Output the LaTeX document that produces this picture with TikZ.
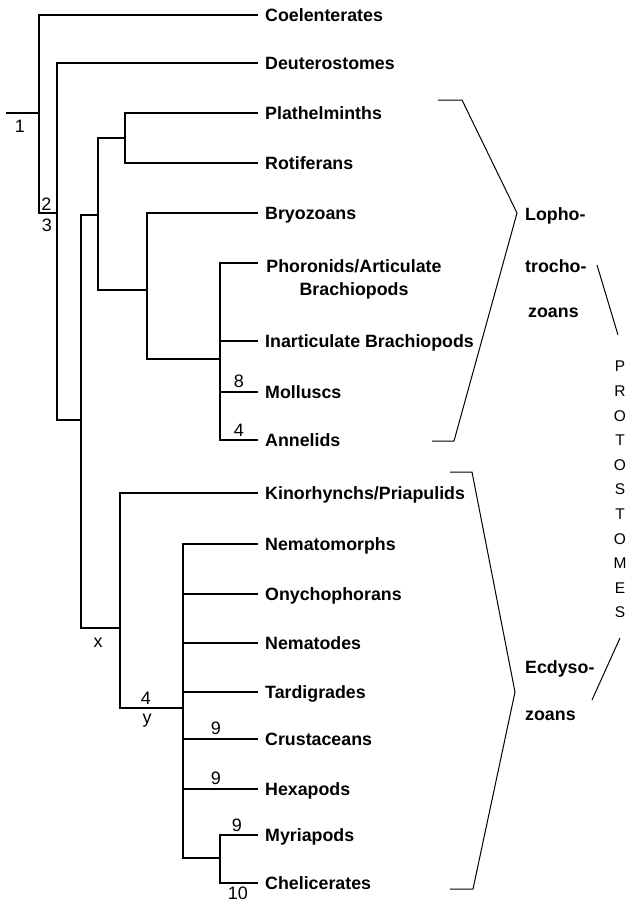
\documentclass[tikz,border=0pt]{standalone}
\usepackage{fontspec}
\setmainfont{Liberation Sans}
\begin{document}
\begin{tikzpicture}[x=1pt,y=-1pt,
  tree/.style={line width=1.2pt},
  brk/.style={line width=1pt, line join=miter},
  leaf/.style={anchor=base west, inner sep=0pt, font=\fontsize{17.8}{23}\selectfont\bfseries},
  num/.style={inner sep=0pt, font=\fontsize{18}{20}\selectfont},
  grp/.style={anchor=base west, inner sep=0pt, font=\fontsize{17.8}{23}\selectfont\bfseries}]
\useasboundingbox (0,0) rectangle (627,902);

% internal nodes of the tree
\coordinate (r) at (6,113);
\coordinate (n1) at (39,113);
\coordinate (n2) at (57,213);
\coordinate (n3) at (81,420);
\coordinate (n4) at (98,215);
\coordinate (n5) at (120,628);
\coordinate (n6) at (125,138);
\coordinate (n7) at (147,290);
\coordinate (n8) at (220,359);
\coordinate (n9) at (183,708);
\coordinate (n10) at (220,858);

% leaves
\foreach \n/\y/\t in {coel/15/Coelenterates, deut/63/Deuterostomes, plat/113/Plathelminths,
  rot/163/Rotiferans, bryo/213/Bryozoans, inart/341/Inarticulate Brachiopods,
  moll/392/Molluscs, ann/440/Annelids, kino/493/{Kinorhynchs/Priapulids},
  nemm/544/Nematomorphs, onyc/594/Onychophorans, nemt/643/Nematodes,
  tard/692/Tardigrades, crus/739/Crustaceans, hexa/789/Hexapods,
  myri/835/Myriapods, chel/883/Chelicerates}{
  \coordinate (e\n) at (258,\y);
  \node[leaf] (t\n) at (265,\y+6.5) {\t};
}
\coordinate (ephor) at (258,263);
\node[anchor=north, inner sep=0pt, align=center, font=\fontsize{17.8}{23}\selectfont\bfseries] (tphor) at (354,259) {Phoronids/Articulate\\Brachiopods};

% branches
\draw[tree] (r) -- (n1);
\draw[tree] (n1) |- (ecoel) (n1) |- (n2);
\draw[tree] (n2) |- (edeut) (n2) |- (n3);
\draw[tree] (n3) |- (n4) (n3) |- (n5);
\draw[tree] (n4) |- (n6) (n4) |- (n7);
\draw[tree] (n6) |- (eplat) (n6) |- (erot);
\draw[tree] (n7) |- (ebryo) (n7) |- (n8);
\draw[tree] (n8) |- (ephor) (n8) |- (einart) (n8) |- (emoll) (n8) |- (eann);
\draw[tree] (n5) |- (ekino) (n5) |- (n9);
\draw[tree] (n9) |- (enemm) (n9) |- (eonyc) (n9) |- (enemt) (n9) |- (etard)
  (n9) |- (ecrus) (n9) |- (ehexa) (n9) |- (n10);
\draw[tree] (n10) |- (emyri) (n10) |- (echel);

% character numbers
\node[num] (c1) at (20,126) {1};
\node[num] (c2) at (46.5,204) {2};
\node[num] (c3) at (47,225) {3};
\node[num] (c8) at (239,381) {8};
\node[num] (c4a) at (239,430) {4};
\node[num, anchor=base] (cx) at (98,647) {x};
\node[num] (c4b) at (146,698) {4};
\node[num, anchor=base] (cy) at (147,723) {y};
\node[num] (c9a) at (216,728) {9};
\node[num] (c9b) at (216,778) {9};
\node[num] (c9c) at (237,825) {9};
\node[num] (c10) at (238,893) {10};

% Lophotrochozoa bracket
\coordinate (la) at (438,100);
\coordinate (lb) at (462,100);
\coordinate (lc) at (517,213);
\coordinate (ld) at (454,441);
\coordinate (le) at (432,441);
\draw[brk] (la) -- (lb) -- (lc) -- (ld) -- (le);
\node[grp] (lop1) at (525,220) {Lopho-};
\node[grp] (lop2) at (525,272) {trocho-};
\node[grp] (lop3) at (528,317) {zoans};

% Ecdysozoa bracket
\coordinate (ea) at (450,472);
\coordinate (eb) at (472,472);
\coordinate (ec) at (515,692);
\coordinate (ed) at (473,889);
\coordinate (ee) at (450,889);
\draw[brk] (ea) -- (eb) -- (ec) -- (ed) -- (ee);
\node[grp] (ecd1) at (525,673) {Ecdyso-};
\node[grp] (ecd2) at (525,720) {zoans};

% Protostomes
\node[anchor=north, inner sep=0pt, align=center, font=\fontsize{15.5}{24.6}\selectfont] (proto) at (620,361)
  {P\\R\\O\\T\\O\\S\\T\\O\\M\\E\\S};
\coordinate (pa) at (597,265);
\coordinate (pb) at (618,335);
\coordinate (pc) at (620,638);
\coordinate (pd) at (592,700);
\draw[brk] (pa) -- (pb);
\draw[brk] (pc) -- (pd);
\end{tikzpicture}
\end{document}
